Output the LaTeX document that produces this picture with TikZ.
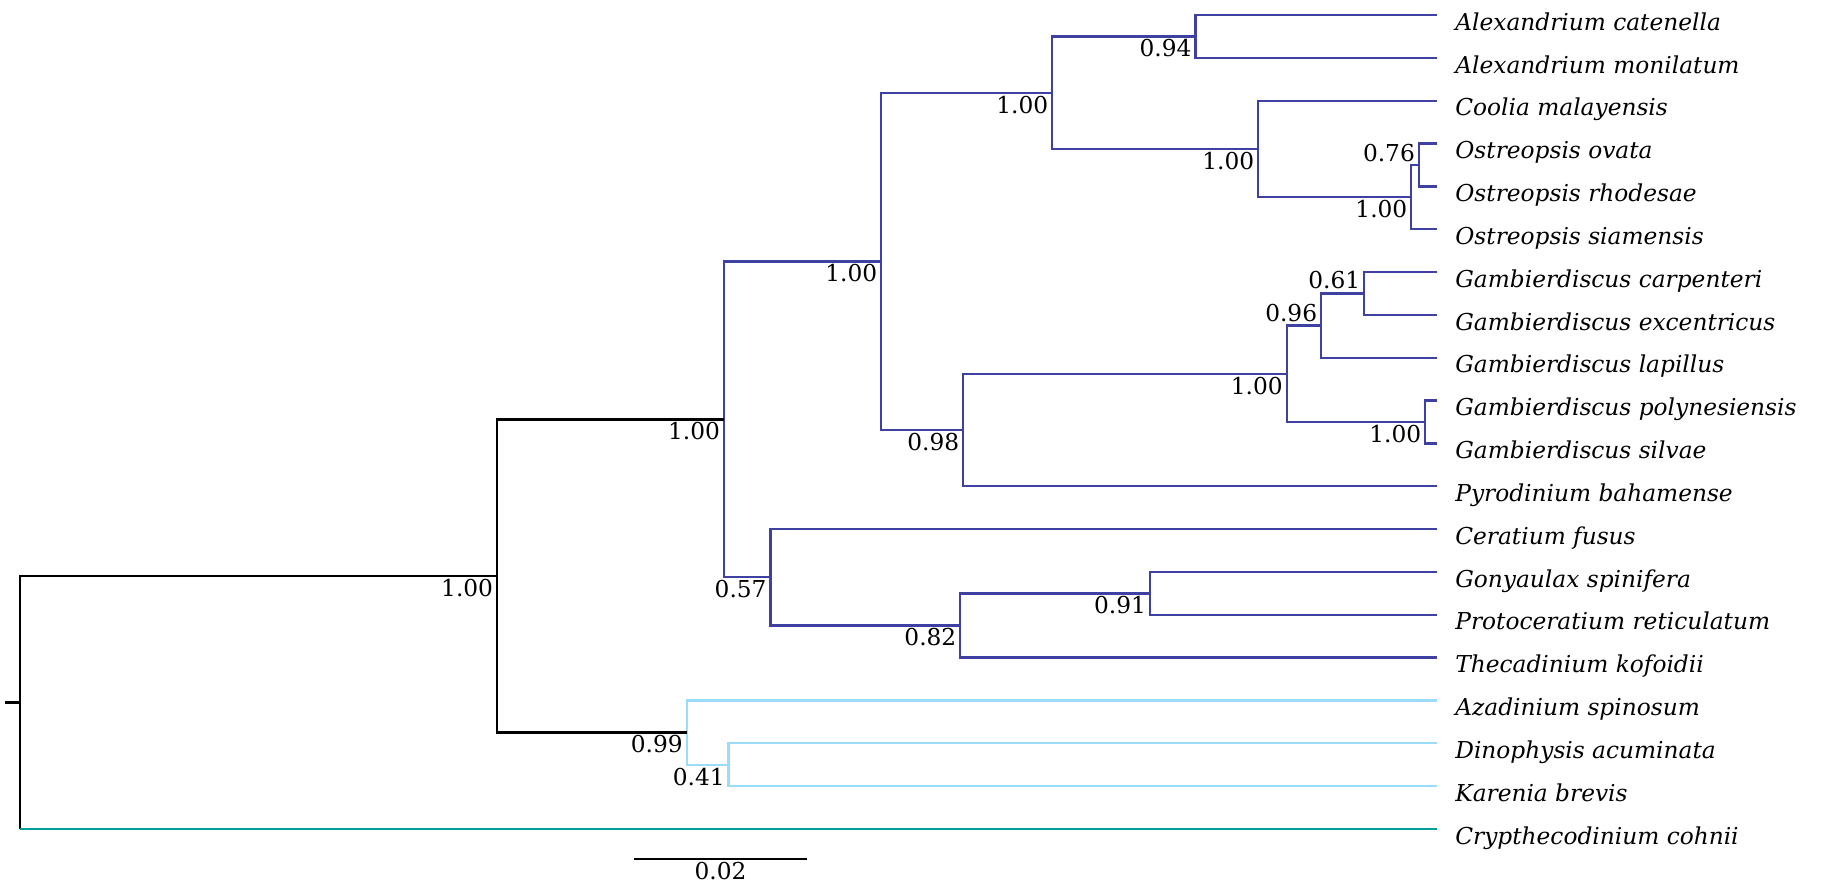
\documentclass[tikz,border=0pt]{standalone}
\usepackage{fontspec}
\setmainfont{DejaVu Serif}
\usetikzlibrary{calc}
\definecolor{cdark}{RGB}{62,64,162}
\definecolor{clight}{RGB}{155,220,250}
\definecolor{cteal}{RGB}{0,160,150}
\begin{document}
\begin{tikzpicture}[x=0.5pt,y=-0.5pt,
  br/.style={line width=1pt, line join=miter},
  dk/.style={br, draw=cdark},
  lt/.style={br, draw=clight},
  bk/.style={br, draw=black},
  tl/.style={br, draw=cteal},
  tiplab/.style={inner sep=0pt, anchor=base west, font=\fontsize{10}{12}\selectfont\itshape},
  num/.style={inner sep=0pt, font=\fontsize{10}{12}\selectfont},
  below lab/.style={num, anchor=base east},
  above lab/.style={num, anchor=base east}]
\useasboundingbox (0,0) rectangle (1568,759);
% tips
\foreach \i/\nm in {0/Alexandrium catenella, 1/Alexandrium monilatum, 2/Coolia malayensis,
  3/Ostreopsis ovata, 4/Ostreopsis rhodesae, 5/Ostreopsis siamensis,
  6/Gambierdiscus carpenteri, 7/Gambierdiscus excentricus, 8/Gambierdiscus lapillus,
  9/Gambierdiscus polynesiensis, 10/Gambierdiscus silvae, 11/Pyrodinium bahamense,
  12/Ceratium fusus, 13/Gonyaulax spinifera, 14/Protoceratium reticulatum,
  15/Thecadinium kofoidii, 16/Azadinium spinosum, 17/Dinophysis acuminata,
  18/Karenia brevis, 19/Crypthecodinium cohnii} {
  \coordinate (t\i) at (1235, 13+36.8*\i);
  \node[tiplab] (lab\i) at ($(t\i)+(15,13)$) {\nm};
}
% internal nodes
\coordinate (nac) at (1027,31.4);
\coordinate (nov) at (1219,141.8);
\coordinate (nost) at (1212.5,169.4);
\coordinate (ncool) at (1081,128);
\coordinate (ntop) at (904,79.7);
\coordinate (ngc) at (1172,252.2);
\coordinate (ng3) at (1135,279.8);
\coordinate (ngp) at (1224.5,362.6);
\coordinate (ngamb) at (1105.5,321.2);
\coordinate (npyro) at (827.5,369.5);
\coordinate (nbig) at (757,224.6);
\coordinate (ngony) at (988,509.8);
\coordinate (ntheca) at (825,537.4);
\coordinate (ncer) at (662,496);
\coordinate (nblue) at (622,360.3);
\coordinate (nl2) at (626,657);
\coordinate (nl) at (590,629.4);
\coordinate (nA) at (427,494.9);
\coordinate (root) at (17,603.5);
\coordinate (stub) at (4,603.5);
\coordinate (rootc) at (root |- t19);
% dark blue clade
\draw[dk] (t0) -| (nac) |- (t1);
\draw[dk] (t3) -| (nov) |- (t4);
\draw[dk] (nov) -| (nost) |- (t5);
\draw[dk] (t2) -| (ncool) |- (nost);
\draw[dk] (nac) -| (ntop) |- (ncool);
\draw[dk] (t6) -| (ngc) |- (t7);
\draw[dk] (ngc) -| (ng3) |- (t8);
\draw[dk] (t9) -| (ngp) |- (t10);
\draw[dk] (ng3) -| (ngamb) |- (ngp);
\draw[dk] (ngamb) -| (npyro) |- (t11);
\draw[dk] (ntop) -| (nbig) |- (npyro);
\draw[dk] (t13) -| (ngony) |- (t14);
\draw[dk] (ngony) -| (ntheca) |- (t15);
\draw[dk] (t12) -| (ncer) |- (ntheca);
\draw[dk] (nbig) -| (nblue) |- (ncer);
% light blue clade
\draw[lt] (t17) -| (nl2) |- (t18);
\draw[lt] (t16) -| (nl) |- (nl2);
% black backbone
\draw[bk] (nblue) -| (nA) |- (nl);
\draw[bk] (nA) -| (root) -- (rootc);
\draw[bk] (stub) -- (root);
% outgroup
\draw[tl] (rootc) -- (t19);
% support values
\node[below lab] (s1) at ($(nac)+(-3,17.5)$) {0.94};
\node[above lab] (s2) at ($(nov)+(-3,-3)$) {0.76};
\node[below lab] (s3) at ($(nost)+(-3,17.5)$) {1.00};
\node[below lab] (s4) at ($(ncool)+(-3,17.5)$) {1.00};
\node[below lab] (s5) at ($(ntop)+(-3,17.5)$) {1.00};
\node[above lab] (s6) at ($(ngc)+(-3,-4)$) {0.61};
\node[above lab] (s7) at ($(ng3)+(-3,-3.5)$) {0.96};
\node[below lab] (s8) at ($(ngp)+(-3,17.5)$) {1.00};
\node[below lab] (s9) at ($(ngamb)+(-3,17.5)$) {1.00};
\node[below lab] (s10) at ($(npyro)+(-3,17.5)$) {0.98};
\node[below lab] (s11) at ($(nbig)+(-3,17.5)$) {1.00};
\node[below lab] (s12) at ($(ngony)+(-3,17.5)$) {0.91};
\node[below lab] (s13) at ($(ntheca)+(-3,17.5)$) {0.82};
\node[below lab] (s14) at ($(ncer)+(-3,17.5)$) {0.57};
\node[below lab] (s15) at ($(nblue)+(-3,17.5)$) {1.00};
\node[below lab] (s16) at ($(nl2)+(-3,17.5)$) {0.41};
\node[below lab] (s17) at ($(nl)+(-3,17.5)$) {0.99};
\node[below lab] (s18) at ($(nA)+(-3,17.5)$) {1.00};
% scale bar
\coordinate (sb1) at (545,738);
\coordinate (sb2) at (693,738);
\draw[bk] (sb1) -- (sb2);
\node[num, anchor=base] (sblab) at (619,756) {0.02};
\end{tikzpicture}
\end{document}
